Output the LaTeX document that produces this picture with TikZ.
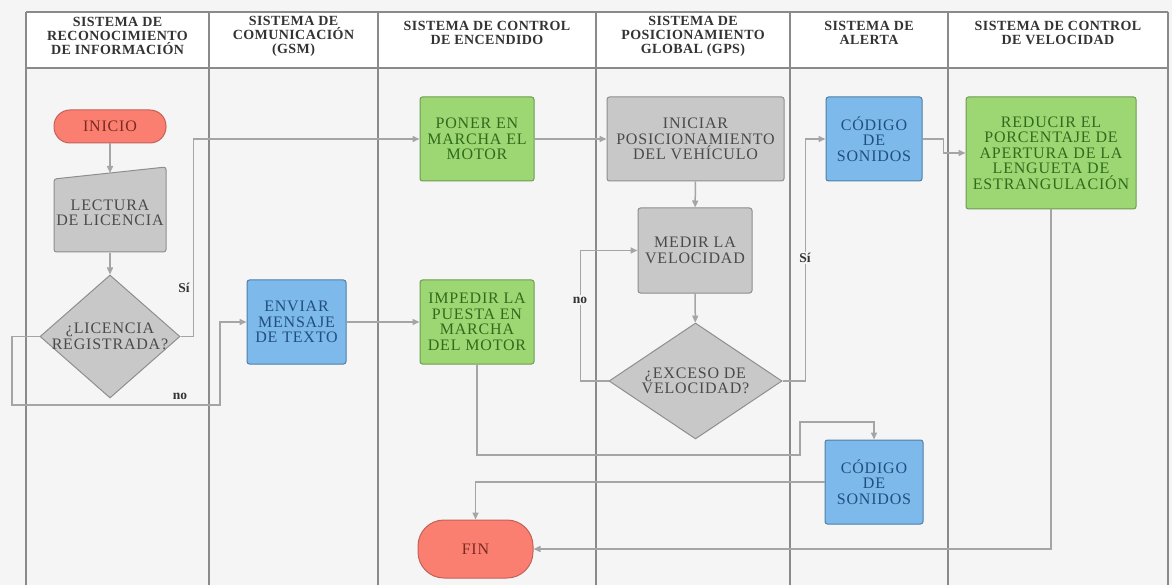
\documentclass[tikz,border=0pt]{standalone}
\usepackage{fontspec}
\setmainfont{Liberation Serif}
\newfontfamily\boxfont[LetterSpace=5]{Liberation Serif}
\newfontfamily\headfont[LetterSpace=3]{Liberation Serif}
\usetikzlibrary{shapes.geometric,arrows.meta}

\definecolor{lanebg}{HTML}{F5F5F5}
\definecolor{laneline}{HTML}{8A8A8A}
\definecolor{connline}{HTML}{A5A5A5}
\definecolor{redfill}{HTML}{FA7F70}
\definecolor{reddraw}{HTML}{C2615A}
\definecolor{redtext}{HTML}{7A2A20}
\definecolor{greenfill}{HTML}{9DD774}
\definecolor{greendraw}{HTML}{6E9B55}
\definecolor{greentext}{HTML}{2F6B1C}
\definecolor{bluefill}{HTML}{7DB9EA}
\definecolor{bluedraw}{HTML}{4E7EA6}
\definecolor{bluetext}{HTML}{1F4F80}
\definecolor{grayfill}{HTML}{C8C8C8}
\definecolor{graydraw}{HTML}{8E8E8E}
\definecolor{graytext}{HTML}{4A4A4A}

\begin{document}
\begin{tikzpicture}[x=1pt,y=-1pt,
    lane/.style={draw=laneline,line width=1.2pt},
    head/.style={align=center,text=black!80,font=\headfont\bfseries\fontsize{14}{14}\selectfont},
    box/.style={rectangle,rounded corners=2.5pt,line width=1pt,align=center,inner sep=2pt,
      font=\boxfont\fontsize{16}{15.5}\selectfont},
    greenbox/.style={box,fill=greenfill,draw=greendraw,text=greentext},
    bluebox/.style={box,fill=bluefill,draw=bluedraw,text=bluetext},
    graybox/.style={box,fill=grayfill,draw=graydraw,text=graytext},
    pill/.style={box,fill=redfill,draw=reddraw,text=redtext},
    decision/.style={diamond,fill=grayfill,draw=graydraw,line width=1pt,inner sep=0pt,align=center,
      text=graytext,font=\boxfont\fontsize{16}{15.5}\selectfont},
    conn/.style={draw=connline,line width=1.5pt,-{Triangle[length=7pt,width=6pt]}},
    lbl/.style={fill=lanebg,inner sep=1.5pt,font=\bfseries\fontsize{13.5}{13.5}\selectfont,text=black!80}
]

\useasboundingbox (0,0) rectangle (1172,585);
\fill[lanebg] (0,0) rectangle (1172,585);

% lanes
\fill[white] (26,12) rectangle (1168,68);
\draw[lane] (26,12) -- (1168,12);
\draw[lane] (26,68) -- (1168,68);
\foreach \xl in {26,209,378,596,790,948,1168}
  \draw[lane] (\xl,12) -- (\xl,585);

\node[head] (h1) at (117.5,36) {SISTEMA DE\\RECONOCIMIENTO\\DE INFORMACIÓN};
\node[head] (h2) at (293.5,36) {SISTEMA DE\\COMUNICACIÓN\\(GSM)};
\node[head] (h3) at (487,33) {SISTEMA DE CONTROL\\DE ENCENDIDO};
\node[head] (h4) at (693,36) {SISTEMA DE\\POSICIONAMIENTO\\GLOBAL (GPS)};
\node[head] (h5) at (869,33) {SISTEMA DE\\ALERTA};
\node[head] (h6) at (1058,33) {SISTEMA DE CONTROL\\DE VELOCIDAD};

% reconocimiento
\node[pill,rounded corners=16pt,minimum width=112,minimum height=33] (inicio) at (110,126.5) {INICIO};
\draw[graybox] (54,179) -- (166,167) -- (166,252) -- (54,252) -- cycle;
\coordinate (lecttop) at (110,173);
\node[box,text=graytext,minimum width=112,minimum height=79] (lect) at (110,213) {LECTURA\\DE LICENCIA};
\node[decision,aspect=1.14,inner xsep=-8pt,minimum width=140,minimum height=123] (lic) at (110,336.5) {¿LICENCIA\\REGISTRADA?};

% comunicacion
\node[bluebox,minimum width=99,minimum height=84] (enviar) at (296.5,322) {ENVIAR\\MENSAJE\\DE TEXTO};

% encendido
\node[greenbox,minimum width=114,minimum height=84] (poner) at (477,139) {PONER EN\\MARCHA EL\\MOTOR};
\node[greenbox,minimum width=114,minimum height=84] (impedir) at (477,322) {IMPEDIR LA\\PUESTA EN\\MARCHA\\DEL MOTOR};
\node[pill,rounded corners=26pt,minimum width=115,minimum height=58] (fin) at (475.5,549) {FIN};

% gps
\node[graybox,minimum width=177,minimum height=84] (iniciar) at (695.5,139) {INICIAR\\POSICIONAMIENTO\\DEL VEHÍCULO};
\node[graybox,minimum width=114,minimum height=85] (medir) at (695,250.5) {MEDIR LA\\VELOCIDAD};
\node[decision,aspect=1.5,minimum width=173,minimum height=116] (exceso) at (695.5,381) {¿EXCESO DE\\VELOCIDAD?};

% alerta
\node[bluebox,minimum width=96,minimum height=84] (cod1) at (874,139) {CÓDIGO\\DE\\SONIDOS};
\node[bluebox,minimum width=98,minimum height=84] (cod2) at (874,482) {CÓDIGO\\DE\\SONIDOS};

% velocidad
\node[greenbox,minimum width=170,minimum height=112] (reducir) at (1051,153) {REDUCIR EL\\PORCENTAJE DE\\APERTURA DE LA\\LENGUETA DE\\ESTRANGULACIÓN};

% connectors
\coordinate (noA) at (12,405);
\coordinate (noB) at (220,405);
\coordinate (jA) at (800,455);
\coordinate (jB) at (800,422);

\draw[conn] (inicio) -- (lecttop);
\draw[conn] (lect.south) -- (lic.north);
\draw[conn] (lic.east) -- ++(13,0) |- (poner.west);
\draw[conn] (lic.west) -| (noA) -- (noB) |- (enviar.west);
\draw[conn] (enviar) -- (impedir);
\draw[conn] (poner) -- (iniciar);
\draw[conn] (iniciar) -- (medir);
\draw[conn] (medir) -- (exceso);
\draw[conn] (exceso.west) -- ++(-28,0) |- (medir.west);
\draw[conn] (exceso.east) -- ++(23,0) |- (cod1.west);
\draw[conn] (cod1.east) -- ++(21,0) |- (reducir.west);
\draw[conn] (impedir.south) |- (jA) -- (jB) -| (cod2.north);
\draw[conn] (cod2.west) -| (fin.north);
\draw[conn] (reducir.south) |- (fin.east);

\node[lbl] (si1) at (184,288) {Sí};
\node[lbl] (no1) at (180,396) {no};
\node[lbl] (no2) at (580,300) {no};
\node[lbl] (si2) at (805,258) {Sí};

\end{tikzpicture}
\end{document}
